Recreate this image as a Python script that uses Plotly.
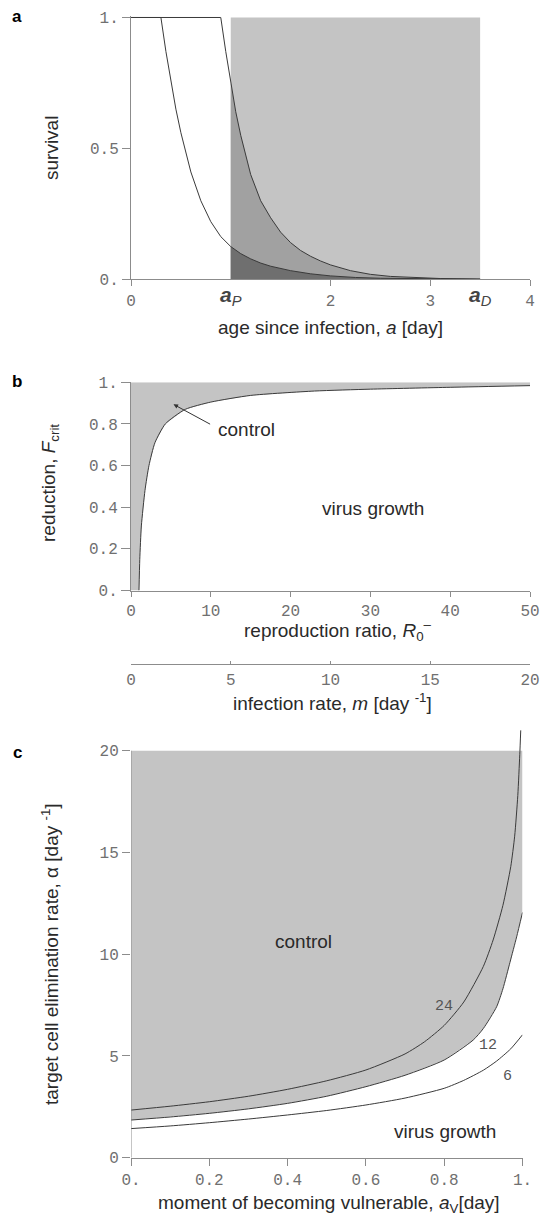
import plotly.graph_objects as go

W, H = 541, 1216

# ---------------- panel a : survival curves ----------------
A_P = 1.0
A_D = 3.5
AGE_1 = [0.0, 0.30, 0.35, 0.40, 0.45, 0.50, 0.55, 0.60, 0.70, 0.80, 0.90, 1.00,
         1.10, 1.20, 1.30, 1.40, 1.60, 1.80, 2.00, 2.25, 2.50, 3.00, 3.50]
SURV_1 = [1.0, 1.0, 0.87, 0.76, 0.65, 0.56, 0.48, 0.41, 0.30, 0.22, 0.163, 0.125,
          0.098, 0.078, 0.062, 0.050, 0.033, 0.021, 0.013, 0.007, 0.004, 0.0012, 0.0004]
AGE_2 = [0.0, 0.90, 0.95, 1.00, 1.05, 1.10, 1.15, 1.20, 1.30, 1.40, 1.50, 1.60,
         1.70, 1.80, 1.90, 2.00, 2.20, 2.40, 2.60, 2.85, 3.10, 3.50]
SURV_2 = [1.0, 1.0, 0.87, 0.75, 0.64, 0.55, 0.47, 0.40, 0.30, 0.235, 0.18, 0.14,
          0.11, 0.088, 0.070, 0.055, 0.033, 0.019, 0.011, 0.006, 0.003, 0.001]
A_TICKS = [0, 2, 3, 4]
S_TICKS = [0, 0.5, 1]
S_TICKTEXT = ["0.", "0.5", "1."]

# ---------------- panel b : critical reduction ----------------
R0 = [1.0, 1.1, 1.3, 1.75, 2.25, 3.0, 4.3, 6.8, 10, 15, 23, 30, 40, 50]
F_CRIT = [0.0, 0.15, 0.31, 0.48, 0.60, 0.71, 0.80, 0.87, 0.905, 0.937, 0.958, 0.967, 0.976, 0.984]
R0_TICKS = [0, 10, 20, 30, 40, 50]
F_TICKS = [0, 0.2, 0.4, 0.6, 0.8, 1.0]
F_TICKTEXT = ["0.", "0.2", "0.4", "0.6", "0.8", "1."]
M_RANGE = [0, 20]
M_TICKS = [0, 5, 10, 15, 20]

# ---------------- panel c : elimination rate ----------------
AV_24 = [0.0, 0.1, 0.2, 0.3, 0.4, 0.5, 0.6, 0.7, 0.75, 0.8, 0.85, 0.9, 0.925,
         0.95, 0.97, 0.98, 0.988, 0.993, 0.9955]
ALPHA_24 = [2.34, 2.53, 2.75, 3.02, 3.36, 3.78, 4.31, 5.1, 5.7, 6.5, 7.65, 9.4, 10.7,
            12.4, 14.3, 15.8, 17.8, 19.8, 21.0]
AV_12 = [0.0, 0.1, 0.2, 0.3, 0.4, 0.5, 0.6, 0.7, 0.8, 0.874, 0.9, 0.934, 0.95,
         0.968, 0.985, 1.0]
ALPHA_12 = [1.85, 2.0, 2.18, 2.4, 2.67, 3.02, 3.49, 4.05, 4.8, 5.78, 6.35, 7.42, 8.3,
            9.6, 10.85, 12.05]
AV_6 = [0.0, 0.1, 0.2, 0.3, 0.4, 0.5, 0.6, 0.7, 0.8, 0.85, 0.9, 0.934, 0.97, 1.0]
ALPHA_6 = [1.43, 1.56, 1.72, 1.9, 2.1, 2.32, 2.59, 2.93, 3.41, 3.8, 4.3, 4.75, 5.35, 6.04]
C_YTOP = 20
AV_TICKS = [0, 0.2, 0.4, 0.6, 0.8, 1.0]
AV_TICKTEXT = ["0.", "0.2", "0.4", "0.6", "0.8", "1."]
ALPHA_TICKS = [0, 5, 10, 15, 20]

# ---------------- styles ----------------
LIGHT = "#c4c4c4"
MID = "#a1a1a1"
DARK = "#6f6f6f"
CURVE = "#3a3a3a"
AXC = "#8c8c8c"
TICKC = "#707070"
TEXTC = "#2a2a2a"
SANS = "Liberation Sans, Arial, sans-serif"
MONO = "Liberation Mono, Courier New, monospace"


def px(x):
    return x / W


def py(y):
    return 1 - y / H


fig = go.Figure()

# panel a
fig.add_trace(go.Scatter(x=[A_P, A_D, A_D, A_P], y=[0, 0, 1, 1], fill="toself",
                         fillcolor=LIGHT, line=dict(width=0), mode="lines",
                         xaxis="x", yaxis="y", hoverinfo="skip"))
seg2 = [(a, s) for a, s in zip(AGE_2, SURV_2) if A_P <= a <= A_D]
fig.add_trace(go.Scatter(x=[p[0] for p in seg2], y=[p[1] for p in seg2], fill="tozeroy",
                         fillcolor=MID, line=dict(width=0), mode="lines",
                         xaxis="x", yaxis="y", hoverinfo="skip"))
seg1 = [(a, s) for a, s in zip(AGE_1, SURV_1) if A_P <= a <= A_D]
fig.add_trace(go.Scatter(x=[p[0] for p in seg1], y=[p[1] for p in seg1], fill="tozeroy",
                         fillcolor=DARK, line=dict(width=0), mode="lines",
                         xaxis="x", yaxis="y", hoverinfo="skip"))
for ax_, sv_ in ((AGE_1, SURV_1), (AGE_2, SURV_2)):
    fig.add_trace(go.Scatter(x=ax_, y=sv_, mode="lines",
                             line=dict(color=CURVE, width=1),
                             xaxis="x", yaxis="y", hoverinfo="skip"))

# panel b
fig.add_trace(go.Scatter(x=[0] + R0 + [R0[-1], 0], y=[0] + F_CRIT + [1, 1],
                         fill="toself", fillcolor=LIGHT, line=dict(width=0),
                         mode="lines", xaxis="x2", yaxis="y2", hoverinfo="skip"))
fig.add_trace(go.Scatter(x=R0, y=F_CRIT, mode="lines",
                         line=dict(color=CURVE, width=1, shape="spline", smoothing=0.6),
                         xaxis="x2", yaxis="y2", hoverinfo="skip"))
fig.add_trace(go.Scatter(x=M_RANGE, y=[0.5, 0.5], mode="lines", opacity=0,
                         line=dict(width=0), xaxis="x4", yaxis="y2", hoverinfo="skip"))

# panel c
fig.add_trace(go.Scatter(x=AV_12 + [AV_12[-1], AV_12[0]], y=ALPHA_12 + [C_YTOP, C_YTOP],
                         fill="toself", fillcolor=LIGHT, line=dict(width=0),
                         mode="lines", xaxis="x3", yaxis="y3", hoverinfo="skip"))
for xs, ys in ((AV_24, ALPHA_24), (AV_12, ALPHA_12), (AV_6, ALPHA_6)):
    fig.add_trace(go.Scatter(x=xs, y=ys, mode="lines",
                             line=dict(color=CURVE, width=1, shape="spline", smoothing=0.6),
                             xaxis="x3", yaxis="y3", hoverinfo="skip"))

fig.add_shape(type="line", xref="x3", yref="y3", x0=0, x1=0, y0=0, y1=C_YTOP,
              line=dict(color=AXC, width=1), layer="above")

tickfont = dict(family=MONO, size=16, color=TICKC)
common = dict(showgrid=False, zeroline=False, showline=True, linecolor=AXC, linewidth=1,
              ticks="outside", tickcolor=AXC, tickwidth=1, tickfont=tickfont,
              fixedrange=True, automargin=False)

fig.update_layout(
    template="none",
    width=W, height=H, margin=dict(l=0, r=0, t=0, b=0, pad=0),
    paper_bgcolor="white", plot_bgcolor="white", showlegend=False,
    xaxis=dict(common, domain=[px(131), px(530)], anchor="y", range=[0, 4],
               tickvals=A_TICKS, ticktext=[str(v) for v in A_TICKS], ticklen=6),
    yaxis=dict(common, domain=[py(279.3), py(279.3 - 1.006 * 261.8)], anchor="x",
               range=[0, 1.006], tickvals=S_TICKS, ticktext=S_TICKTEXT, ticklen=8),
    xaxis2=dict(common, domain=[px(131), px(530)], anchor="y2", range=[0, 50],
                tickvals=R0_TICKS, ticktext=[str(v) for v in R0_TICKS], ticklen=5),
    yaxis2=dict(common, domain=[py(590.5), py(382.3)], anchor="x2", range=[0, 1],
                tickvals=F_TICKS, ticktext=F_TICKTEXT, ticklen=9),
    xaxis4=dict(common, overlaying="x2", anchor="free", position=py(664.3), side="bottom",
                range=M_RANGE, tickvals=M_TICKS, ticktext=[str(v) for v in M_TICKS],
                ticks="inside", ticklen=3),
    xaxis3=dict(common, domain=[px(131), px(522.5)], anchor="y3", range=[0, 1],
                tickvals=AV_TICKS, ticktext=AV_TICKTEXT, ticklen=7),
    yaxis3=dict(common, domain=[py(1157.7), py(1157.7 - 21.2 * 20.35)], anchor="x3",
                range=[0, 21.2], tickvals=ALPHA_TICKS,
                ticktext=[str(v) for v in ALPHA_TICKS], ticklen=8, showline=False),
)

ann = []


def text(x, y, s, size=19, xref="paper", yref="paper", angle=0, color=TEXTC,
         family=SANS, xanchor="center"):
    ann.append(dict(x=x, y=y, xref=xref, yref=yref, text=s, showarrow=False,
                    textangle=angle, xanchor=xanchor, yanchor="middle",
                    font=dict(family=family, size=size, color=color)))


# panel letters
text(px(17), py(17), "<b>a</b>", size=17, color="black")
text(px(17), py(381), "<b>b</b>", size=17, color="black")
text(px(17), py(752), "<b>c</b>", size=17, color="black")

# panel a labels
text(px(51), py(148), "survival", angle=-90)
text(px(330.5), py(327), "age since infection, <i>a</i> [day]")
text(A_P, py(296), "<b><i>a</i></b><i><sub>P</sub></i>", size=21, xref="x", color="#444")
text(A_D, py(296), "<b><i>a</i></b><i><sub>D</sub></i>", size=21, xref="x", color="#444")

# panel b labels
text(px(50), py(483), "reduction, <i>F</i><sub>crit</sub>", angle=-90)
text(px(338), py(630), "reproduction ratio, <i>R</i><sub>0</sub><sup>\u2013</sup>")
text(px(332), py(702), "infection rate, <i>m</i> [day <sup>-1</sup>]")
text(14.5, 0.771, "control", xref="x2", yref="y2")
text(30.3, 0.395, "virus growth", xref="x2", yref="y2")
ann.append(dict(x=5.33, y=0.894, ax=10.1, ay=0.795, xref="x2", yref="y2",
                axref="x2", ayref="y2", text="", showarrow=True, arrowhead=2,
                arrowsize=0.9, arrowwidth=1, arrowcolor="#333"))

# panel c labels
text(px(50), py(954), "target cell elimination rate, \u03b1 [day <sup>-1</sup>]", angle=-90)
text(px(329), py(1204), "moment of becoming vulnerable, <i>a</i><sub>V</sub>[day]")
text(0.44, 10.6, "control", xref="x3", yref="y3")
text(0.802, 1.28, "virus growth", xref="x3", yref="y3")
text(0.80, 7.45, "24", size=15, xref="x3", yref="y3", family=MONO, color="#555")
text(0.911, 5.49, "12", size=15, xref="x3", yref="y3", family=MONO, color="#555")
text(0.962, 3.98, "6", size=15, xref="x3", yref="y3", family=MONO, color="#555")

fig.update_layout(annotations=ann)
fig.write_html("out.html",
               config={"displayModeBar": False, "staticPlot": True},
               post_script="document.body.style.margin='0px';"
                           "document.body.style.overflow='hidden';")
